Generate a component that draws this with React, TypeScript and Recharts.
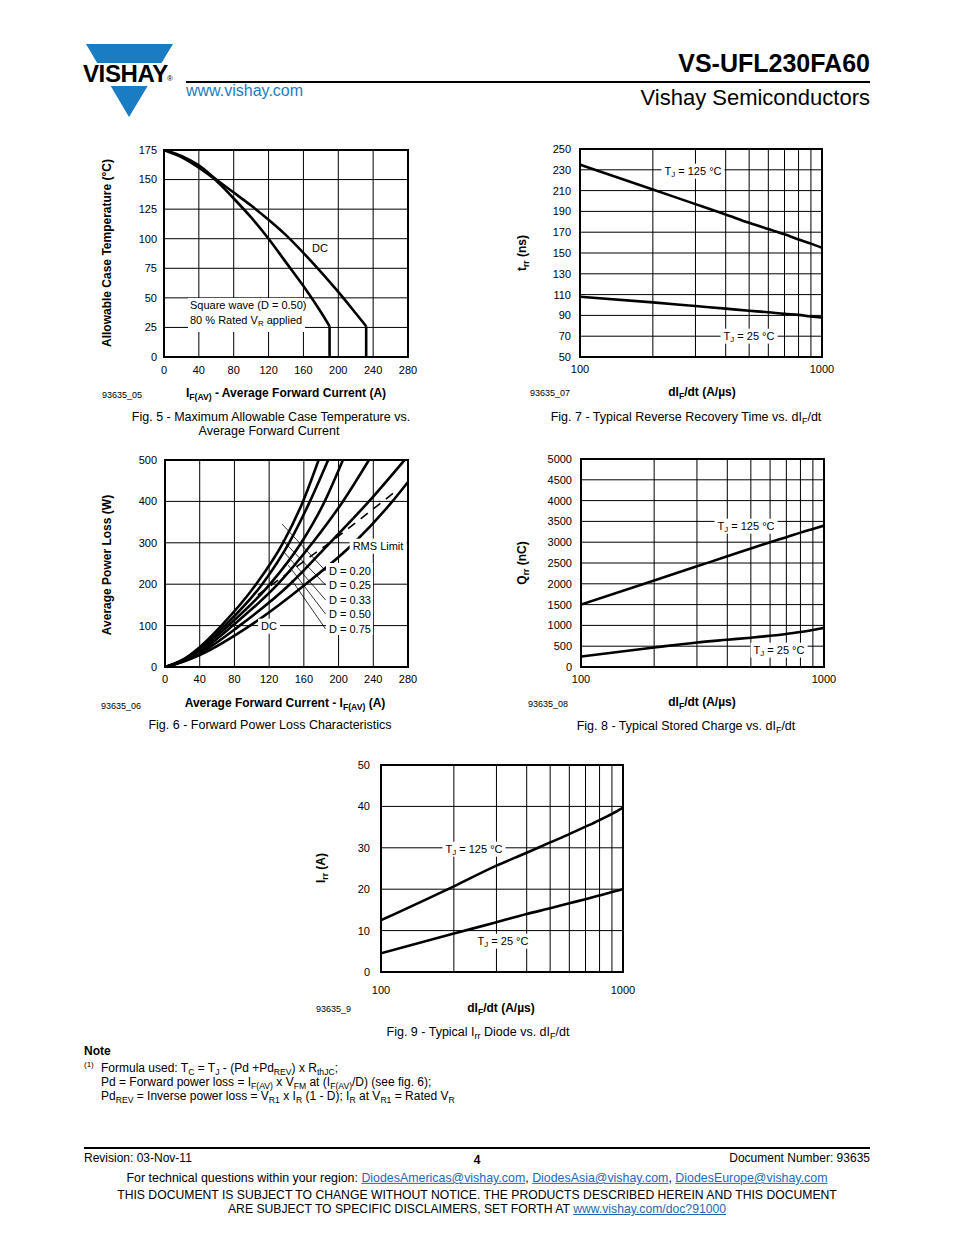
import React from 'react';
import { LineChart, Line, XAxis, YAxis, CartesianGrid, ReferenceArea, ReferenceLine } from 'recharts';

const FONT = '"Liberation Sans", Arial, Helvetica, sans-serif';
const BLUE = '#1a7cc2';
const LINK = '#1f66b8';

// Fig. 5 - Maximum allowable case temperature vs. average forward current
const fig5XTicks = [0, 40, 80, 120, 160, 200, 240, 280];
const fig5YTicks = [0, 25, 50, 75, 100, 125, 150, 175];
const fig5SquareCurrent = [0, 20, 40, 60, 80, 100, 120, 140, 160, 180, 190];
const fig5SquareTemp = [175, 169, 160, 149, 134, 118, 100, 80, 60, 38, 26];
const fig5SquareDrop = [26, 0];
const fig5DcCurrent = [0, 20, 40, 60, 80, 100, 120, 140, 160, 180, 200, 220, 232];
const fig5DcTemp = [175, 170, 162, 150, 139, 128, 116, 103, 88, 72, 55, 37, 26];
const fig5DcDrop = [26, 0];

// Fig. 6 - Forward power loss characteristics
const fig6XTicks = [0, 40, 80, 120, 160, 200, 240, 280];
const fig6YTicks = [0, 100, 200, 300, 400, 500];
const d020Current = [0, 20, 40, 65, 105, 136, 159, 177];
const d020Power = [0, 17, 48, 100, 200, 300, 400, 500];
const d025Current = [0, 20, 40, 69, 112, 143, 167, 188];
const d025Power = [0, 16, 45, 100, 200, 300, 400, 500];
const d033Current = [0, 20, 40, 73, 121, 157, 184, 205];
const d033Power = [0, 15, 41, 100, 200, 300, 400, 500];
const d050Current = [0, 20, 40, 78, 130, 170, 205, 235];
const d050Power = [0, 14, 37, 100, 200, 300, 400, 500];
const d075Current = [0, 20, 40, 86, 144, 190, 235, 276];
const d075Power = [0, 13, 33, 100, 200, 300, 400, 500];
const dcCurrent = [0, 20, 40, 98, 162, 218, 262, 280];
const dcPower = [0, 12, 29, 100, 200, 300, 400, 447];
const rmsCurrent = [107, 150, 200, 268];
const rmsPower = [174, 240, 316, 428];
// leader lines from the D = ... labels to the curves (current, power)
const fig6Leaders = [
  [[185, 232], [135, 345]],
  [[185, 198], [135, 307]],
  [[185, 162], [137, 278]],
  [[185, 128], [142, 246]],
  [[185, 92], [146, 210]],
];

// Fig. 7 / 8 / 9 - dIF/dt (A/µs), log axis
const didt = [100, 200, 300, 400, 500, 600, 700, 800, 900, 1000];
const trr125 = [235, 211, 197, 187, 179, 173, 168, 163, 159, 155];
const trr25 = [108, 102.5, 99, 96.5, 94.5, 93, 91.5, 90.5, 89, 88];
const trrTicks = [50, 70, 90, 110, 130, 150, 170, 190, 210, 230, 250];

const qrr125 = [1500, 2080, 2420, 2660, 2850, 3000, 3120, 3230, 3320, 3400];
const qrr25 = [250, 470, 590, 655, 705, 750, 795, 840, 890, 940];
const qrrTicks = [0, 500, 1000, 1500, 2000, 2500, 3000, 3500, 4000, 4500, 5000];

const irr125 = [12.5, 20.7, 25.7, 28.8, 31.3, 33.3, 35.1, 36.7, 38.2, 39.7];
const irr25 = [4.5, 9.3, 12.0, 14.0, 15.4, 16.6, 17.6, 18.5, 19.3, 20.0];
const irrTicks = [0, 10, 20, 30, 40, 50];

const pts = (xs: number[], ys: number[]) => xs.map((x, i) => ({ x, y: ys[i] }));

type Series = { data: { x: number; y: number }[]; dash?: string; width?: number; linear?: boolean };

const tickStyle = { fill: '#000', fontSize: 11, fontFamily: FONT };

const Panel = (p: {
  x: number; y: number; w: number; h: number;
  xDomain: [number, number]; yDomain: [number, number];
  xTicks: number[]; yTicks: number[]; log?: boolean;
  xGap: number; yGap: number; series: Series[]; leaders?: number[][][];
}) => {
  const axisW = 50, top = 8, right = 24, axisH = 30;
  return (
    <div style={{ position: 'absolute', left: p.x - axisW, top: p.y - top }}>
      <LineChart width={axisW + p.w + right} height={top + p.h + axisH} margin={{ top, right, bottom: 0, left: 0 }}>
        <CartesianGrid stroke="#000" strokeWidth={1} />
        <XAxis
          dataKey="x" type="number" scale={p.log ? 'log' : 'linear'} domain={p.xDomain} ticks={p.xTicks}
          interval={0} height={axisH} tickLine={false} axisLine={false} tickSize={5} tickMargin={p.xGap}
          tick={tickStyle} allowDataOverflow
          tickFormatter={(v: number) => (p.log ? (v === 100 || v === 1000 ? String(v) : '') : String(v))}
        />
        <YAxis
          dataKey="y" type="number" domain={p.yDomain} ticks={p.yTicks} interval={0} width={axisW}
          tickLine={false} axisLine={false} tickSize={5} tickMargin={p.yGap} tick={tickStyle} allowDataOverflow
        />
        <ReferenceArea x1={p.xDomain[0]} x2={p.xDomain[1]} y1={p.yDomain[0]} y2={p.yDomain[1]}
          fill="none" fillOpacity={0} stroke="#000" strokeWidth={2} />
        {(p.leaders || []).map((s, i) => (
          <ReferenceLine key={'l' + i} segment={[{ x: s[0][0], y: s[0][1] }, { x: s[1][0], y: s[1][1] }]}
            stroke="#000" strokeWidth={0.8} />
        ))}
        {p.series.map((s, i) => (
          <Line key={i} data={s.data} dataKey="y" type={s.linear ? 'linear' : 'monotone'} stroke="#000"
            strokeWidth={s.width ?? 2.6} strokeDasharray={s.dash} dot={false} isAnimationActive={false} />
        ))}
      </LineChart>
    </div>
  );
};

const Txt = (p: {
  x: number; y: number; size?: number; bold?: boolean; anchor?: 'start' | 'middle' | 'end';
  bg?: boolean; rotate?: boolean; color?: string; children: React.ReactNode;
}) => {
  const tx = p.anchor === 'start' ? '0' : p.anchor === 'end' ? '-100%' : '-50%';
  return (
    <div style={{
      position: 'absolute', left: p.x, top: p.y,
      transform: `translate(${tx},-50%)${p.rotate ? ' rotate(-90deg)' : ''}`,
      fontSize: p.size ?? 11, fontWeight: p.bold ? 'bold' : 'normal', whiteSpace: 'nowrap',
      lineHeight: 1.15, background: p.bg ? '#fff' : undefined, padding: p.bg ? '1px 3px' : undefined,
      color: p.color ?? '#000',
    }}>{p.children}</div>
  );
};

const Sub = ({ children }: { children: React.ReactNode }) => (
  <span style={{ fontSize: '0.72em', position: 'relative', top: '0.3em' }}>{children}</span>
);

const Tj = ({ t }: { t: string }) => <>T<Sub>J</Sub> = {t} °C</>;

const Box = (p: { x: number; y: number; w: number; h: number }) => (
  <div style={{ position: 'absolute', left: p.x, top: p.y, width: p.w, height: p.h, background: '#fff' }} />
);

const Link = ({ children }: { children: React.ReactNode }) => (
  <span style={{ color: LINK, textDecoration: 'underline' }}>{children}</span>
);

export default function App() {
  return (
    <div style={{
      position: 'absolute', left: 0, top: 0, width: 954, height: 1235, background: '#fff',
      fontFamily: FONT, color: '#000', overflow: 'hidden',
    }}>
      {/* header */}
      <svg style={{ position: 'absolute', left: 0, top: 0 }} width={200} height={125}>
        <polygon points="86,44 173,44 161.5,63 97.2,63" fill={BLUE} />
        <polygon points="110.7,86 147.7,86 129,117" fill={BLUE} />
        <text x={83} y={82} fontSize={24} fontWeight={900} fontFamily={FONT} letterSpacing={-0.4} fill="#000">VISHAY</text>
        <text x={167} y={81} fontSize={8} fontFamily={FONT} fill="#000">®</text>
      </svg>
      <div style={{ position: 'absolute', left: 186, top: 81, width: 684, height: 2, background: '#000' }} />
      <Txt x={186} y={91} size={16} anchor="start" color={BLUE}>www.vishay.com</Txt>
      <Txt x={870} y={63} size={25} bold anchor="end">VS-UFL230FA60</Txt>
      <Txt x={870} y={98} size={22} anchor="end">Vishay Semiconductors</Txt>

      {/* Fig. 5 */}
      <Panel x={164} y={150} w={244} h={207} xDomain={[0, 280]} yDomain={[0, 175]} xTicks={fig5XTicks}
        yTicks={fig5YTicks} xGap={4} yGap={2}
        series={[
          { data: pts(fig5SquareCurrent, fig5SquareTemp) },
          { data: pts([190, 190], fig5SquareDrop), linear: true },
          { data: pts(fig5DcCurrent, fig5DcTemp) },
          { data: pts([232, 232], fig5DcDrop), linear: true },
        ]} />
      <Box x={188} y={298} w={117} h={34} />
      <Txt x={190} y={305} anchor="start">Square wave (D = 0.50)</Txt>
      <Txt x={190} y={320} anchor="start">80 % Rated V<Sub>R</Sub> applied</Txt>
      <Txt x={320} y={248}>DC</Txt>
      <Txt x={108} y={253} size={12} bold rotate>Allowable Case Temperature (°C)</Txt>
      <Txt x={286} y={394} size={12} bold>I<Sub>F(AV)</Sub> - Average Forward Current (A)</Txt>
      <Txt x={102} y={395} size={9} anchor="start">93635_05</Txt>
      <Txt x={271} y={417} size={12.5}>Fig. 5 - Maximum Allowable Case Temperature vs.</Txt>
      <Txt x={269} y={431} size={12.5}>Average Forward Current</Txt>

      {/* Fig. 7 */}
      <Panel x={580} y={149} w={242} h={208} xDomain={[100, 1000]} yDomain={[50, 250]} xTicks={didt}
        yTicks={trrTicks} log xGap={3} yGap={4}
        series={[{ data: pts(didt, trr125) }, { data: pts(didt, trr25) }]} />
      <Txt x={693} y={171} bg><Tj t="125" /></Txt>
      <Txt x={749} y={336} bg><Tj t="25" /></Txt>
      <Txt x={523} y={253} size={12} bold rotate>t<Sub>rr</Sub> (ns)</Txt>
      <Txt x={702} y={393} size={12} bold>dI<Sub>F</Sub>/dt (A/µs)</Txt>
      <Txt x={530} y={393} size={9} anchor="start">93635_07</Txt>
      <Txt x={686} y={417} size={12.5}>Fig. 7 - Typical Reverse Recovery Time vs. dI<Sub>F</Sub>/dt</Txt>

      {/* Fig. 6 */}
      <Panel x={165} y={460} w={243} h={207} xDomain={[0, 280]} yDomain={[0, 500]} xTicks={fig6XTicks}
        yTicks={fig6YTicks} xGap={3} yGap={3} leaders={fig6Leaders}
        series={[
          { data: pts(d020Current, d020Power) },
          { data: pts(d025Current, d025Power) },
          { data: pts(d033Current, d033Power) },
          { data: pts(d050Current, d050Power) },
          { data: pts(d075Current, d075Power) },
          { data: pts(dcCurrent, dcPower) },
          { data: pts(rmsCurrent, rmsPower), dash: '9 7', width: 1.6, linear: true },
        ]} />
      <Txt x={378} y={546} bg>RMS Limit</Txt>
      <Box x={326} y={563} w={47} h={72} />
      <Txt x={329} y={571} anchor="start">D = 0.20</Txt>
      <Txt x={329} y={585} anchor="start">D = 0.25</Txt>
      <Txt x={329} y={600} anchor="start">D = 0.33</Txt>
      <Txt x={329} y={614} anchor="start">D = 0.50</Txt>
      <Txt x={329} y={629} anchor="start">D = 0.75</Txt>
      <Txt x={269} y={626} bg>DC</Txt>
      <Txt x={108} y={565} size={12} bold rotate>Average Power Loss (W)</Txt>
      <Txt x={285} y={704} size={12} bold>Average Forward Current - I<Sub>F(AV)</Sub> (A)</Txt>
      <Txt x={101} y={706} size={9} anchor="start">93635_06</Txt>
      <Txt x={270} y={725} size={12.5}>Fig. 6 - Forward Power Loss Characteristics</Txt>

      {/* Fig. 8 */}
      <Panel x={581} y={459} w={243} h={208} xDomain={[100, 1000]} yDomain={[0, 5000]} xTicks={didt}
        yTicks={qrrTicks} log xGap={3} yGap={4}
        series={[{ data: pts(didt, qrr125) }, { data: pts(didt, qrr25) }]} />
      <Txt x={746} y={526} bg><Tj t="125" /></Txt>
      <Txt x={779} y={650} bg><Tj t="25" /></Txt>
      <Txt x={523} y={563} size={12} bold rotate>Q<Sub>rr</Sub> (nC)</Txt>
      <Txt x={702} y={703} size={12} bold>dI<Sub>F</Sub>/dt (A/µs)</Txt>
      <Txt x={528} y={704} size={9} anchor="start">93635_08</Txt>
      <Txt x={686} y={726} size={12.5}>Fig. 8 - Typical Stored Charge vs. dI<Sub>F</Sub>/dt</Txt>

      {/* Fig. 9 */}
      <Panel x={381} y={765} w={242} h={207} xDomain={[100, 1000]} yDomain={[0, 50]} xTicks={didt}
        yTicks={irrTicks} log xGap={9} yGap={6}
        series={[{ data: pts(didt, irr125) }, { data: pts(didt, irr25) }]} />
      <Txt x={474} y={849} bg><Tj t="125" /></Txt>
      <Txt x={503} y={941} bg><Tj t="25" /></Txt>
      <Txt x={322} y={868} size={12} bold rotate>I<Sub>rr</Sub> (A)</Txt>
      <Txt x={501} y={1009} size={12} bold>dI<Sub>F</Sub>/dt (A/µs)</Txt>
      <Txt x={316} y={1009} size={9} anchor="start">93635_9</Txt>
      <Txt x={478} y={1032} size={12.5}>Fig. 9 - Typical I<Sub>rr</Sub> Diode vs. dI<Sub>F</Sub>/dt</Txt>

      {/* note */}
      <Txt x={84} y={1052} size={12} bold anchor="start">Note</Txt>
      <Txt x={84} y={1065} size={8} anchor="start">(1)</Txt>
      <Txt x={101} y={1069} size={12} anchor="start">
        Formula used: T<Sub>C</Sub> = T<Sub>J</Sub> - (Pd +Pd<Sub>REV</Sub>) x R<Sub>thJC</Sub>;
      </Txt>
      <Txt x={101} y={1083} size={12} anchor="start">
        Pd = Forward power loss = I<Sub>F(AV)</Sub> x V<Sub>FM</Sub> at (I<Sub>F(AV)</Sub>/D) (see fig. 6);
      </Txt>
      <Txt x={101} y={1097} size={12} anchor="start">
        Pd<Sub>REV</Sub> = Inverse power loss = V<Sub>R1</Sub> x I<Sub>R</Sub> (1 - D); I<Sub>R</Sub> at V<Sub>R1</Sub> = Rated V<Sub>R</Sub>
      </Txt>

      {/* footer */}
      <div style={{ position: 'absolute', left: 84, top: 1147, width: 786, height: 2, background: '#000' }} />
      <Txt x={84} y={1159} size={12} anchor="start">Revision: 03-Nov-11</Txt>
      <Txt x={477} y={1161} size={12} bold>4</Txt>
      <Txt x={870} y={1159} size={12} anchor="end">Document Number: 93635</Txt>
      <Txt x={477} y={1178} size={12.4}>
        For technical questions within your region: <Link>DiodesAmericas@vishay.com</Link>,{' '}
        <Link>DiodesAsia@vishay.com</Link>, <Link>DiodesEurope@vishay.com</Link>
      </Txt>
      <Txt x={477} y={1195} size={12.2}>
        THIS DOCUMENT IS SUBJECT TO CHANGE WITHOUT NOTICE. THE PRODUCTS DESCRIBED HEREIN AND THIS DOCUMENT
      </Txt>
      <Txt x={477} y={1209} size={12.2}>
        ARE SUBJECT TO SPECIFIC DISCLAIMERS, SET FORTH AT <Link>www.vishay.com/doc?91000</Link>
      </Txt>
    </div>
  );
}
